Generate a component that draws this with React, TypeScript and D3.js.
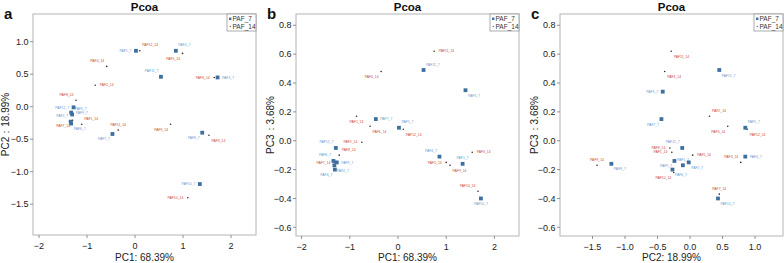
import React from "react";
import * as d3 from "d3";

// ---------- data ----------
// Panel a : PC1 vs PC2
const aSq = [
  { x: 0.02, y: 0.86, label: "PAF1_7", side: "l" },
  { x: 0.85, y: 0.86, label: "PAF4_7", side: "tr" },
  { x: 0.54, y: 0.46, label: "PAF11_7", side: "tl" },
  { x: 1.72, y: 0.45, label: "PAF3_7", side: "r" },
  { x: -1.28, y: -0.01, label: "PAF12_7", side: "l" },
  { x: -1.33, y: -0.09, label: "PAF9_7", side: "r" },
  { x: -1.31, y: -0.12, label: "PAF5_7", side: "tr" },
  { x: -1.34, y: -0.23, label: "PAF2_7", side: "tl" },
  { x: -1.33, y: -0.26, label: "PAF6_7", side: "br" },
  { x: -0.47, y: -0.42, label: "PAF7_7", side: "bl" },
  { x: 1.4, y: -0.4, label: "PAF8_7", side: "bl" },
  { x: 1.35, y: -1.19, label: "PAF10_7", side: "l" },
];
const aDot = [
  { x: 0.1, y: 0.86, label: "PAF12_14", side: "tr" },
  { x: 0.99, y: 0.82, label: "PAF5_14", side: "bl" },
  { x: -0.59, y: 0.62, label: "PAF4_14", side: "tl" },
  { x: 1.65, y: 0.45, label: "PAF6_14", side: "l" },
  { x: -0.83, y: 0.33, label: "PAF2_14", side: "r" },
  { x: -1.23, y: 0.1, label: "PAF8_14", side: "tl" },
  { x: -1.11, y: -0.27, label: "PAF1_14", side: "tr" },
  { x: -0.35, y: -0.36, label: "PAF11_14", side: "t" },
  { x: 0.74, y: -0.27, label: "PAF9_14", side: "bl" },
  { x: 1.54, y: -0.44, label: "PAF3_14", side: "br" },
  { x: 1.1, y: -1.4, label: "PAF10_14", side: "l" },
  { x: -1.3, y: -0.21, label: "PAF7_14", side: "bl" },
];
// Panel b : PC1 vs PC3
const bSq = [
  { x: 0.53, y: 0.49, label: "PAF11_7", side: "tr" },
  { x: 1.4, y: 0.35, label: "PAF3_7", side: "br" },
  { x: -0.46, y: 0.15, label: "PAF7_7", side: "r" },
  { x: 0.02, y: 0.09, label: "PAF5_7", side: "tr" },
  { x: -1.29, y: -0.05, label: "PAF12_7", side: "tl" },
  { x: -1.34, y: -0.14, label: "PAF8_7", side: "tl" },
  { x: -1.27, y: -0.15, label: "PAF9_7", side: "r" },
  { x: -1.32, y: -0.17, label: "PAF2_7", side: "br" },
  { x: -1.31, y: -0.2, label: "PAF6_7", side: "bl" },
  { x: 0.86, y: -0.11, label: "PAF4_7", side: "tl" },
  { x: 1.34, y: -0.16, label: "PAF1_7", side: "t" },
  { x: 1.72, y: -0.4, label: "PAF10_7", side: "b" },
];
const bDot = [
  { x: 0.75, y: 0.62, label: "PAF11_14", side: "r" },
  { x: -0.35, y: 0.48, label: "PAF4_14", side: "bl" },
  { x: -0.86, y: 0.17, label: "PAF1_14", side: "b" },
  { x: 0.11, y: 0.08, label: "PAF12_14", side: "br" },
  { x: -0.58, y: 0.1, label: "PAF6_14", side: "br" },
  { x: -0.75, y: -0.01, label: "PAF2_14", side: "l" },
  { x: -1.22, y: -0.1, label: "PAF8_14", side: "tr" },
  { x: 1.0, y: -0.15, label: "PAF5_14", side: "l" },
  { x: 1.08, y: -0.17, label: "PAF9_14", side: "br" },
  { x: 1.54, y: -0.08, label: "PAF3_14", side: "r" },
  { x: 1.66, y: -0.35, label: "PAF10_14", side: "tl" },
  { x: -1.31, y: -0.15, label: "PAF7_14", side: "l" },
];
// Panel c : PC2 vs PC3
const cSq = [
  { x: 0.45, y: 0.49, label: "PAF11_7", side: "br" },
  { x: -0.42, y: 0.34, label: "PAF3_7", side: "l" },
  { x: -0.44, y: 0.15, label: "PAF7_7", side: "bl" },
  { x: 0.85, y: 0.09, label: "PAF5_7", side: "tr" },
  { x: -0.12, y: -0.05, label: "PAF12_7", side: "tl" },
  { x: -0.24, y: -0.14, label: "PAF9_7", side: "bl" },
  { x: -0.02, y: -0.15, label: "PAF2_7", side: "br" },
  { x: -0.11, y: -0.17, label: "PAF1_7", side: "t" },
  { x: -0.27, y: -0.2, label: "PAF6_7", side: "br" },
  { x: -1.21, y: -0.16, label: "PAF8_7", side: "br" },
  { x: 0.85, y: -0.11, label: "PAF4_7", side: "r" },
  { x: 0.43, y: -0.4, label: "PAF10_7", side: "br" },
];
const cDot = [
  { x: -0.29, y: 0.62, label: "PAF11_14", side: "br" },
  { x: -0.39, y: 0.48, label: "PAF4_14", side: "br" },
  { x: 0.3, y: 0.17, label: "PAF2_14", side: "tr" },
  { x: 0.58, y: 0.1, label: "PAF6_14", side: "bl" },
  { x: -0.31, y: -0.05, label: "PAF8_14", side: "l" },
  { x: 0.04, y: -0.1, label: "PAF5_14", side: "r" },
  { x: -1.43, y: -0.17, label: "PAF9_14", side: "t" },
  { x: 0.78, y: -0.15, label: "PAF3_14", side: "tl" },
  { x: -0.28, y: -0.08, label: "PAF1_14", side: "l" },
  { x: -0.25, y: -0.22, label: "PAF10_14", side: "bl" },
  { x: 0.88, y: 0.08, label: "PAF12_14", side: "br" },
  { x: 0.45, y: -0.37, label: "PAF7_14", side: "t" },
];

const intTicks = [-2, -1, 0, 1, 2];
const halfTicks = [-1.5, -1, -0.5, 0, 0.5, 1];
const aYTicks = [-1.5, -1, -0.5, 0, 0.5, 1];
const pc3Ticks = [-0.6, -0.4, -0.2, 0, 0.2, 0.4, 0.6, 0.8];
const legendNames = ["PAF_7", "PAF_14"];

// ---------- styling ----------
const FONT = "'Liberation Sans', Arial, Helvetica, sans-serif";
const SQ_COLOR = "#3f6f9f";
const DOT_COLOR = "#3a2222";
const BLUE_TXT = "#6b9bd0";
const RED_TXT = "#c8493c";

type Pt = { x: number; y: number; label: string; side: string };

type PanelCfg = {
  letter: string;
  box: [number, number, number, number];
  xDom: [number, number];
  yDom: [number, number];
  xTicks: number[];
  yTicks: number[];
  xFmt: (n: number) => string;
  yFmt: (n: number) => string;
  xTitle: string;
  yTitle: string;
  yTitleX: number;
  sq: Pt[];
  dot: Pt[];
};

const fmtInt = d3.format("d");
const fmt1 = d3.format(".1f");

const panels: PanelCfg[] = [
  {
    letter: "a",
    box: [33, 14, 256, 235],
    xDom: [-2.125, 2.52],
    yDom: [-1.974, 1.426],
    xTicks: intTicks,
    yTicks: aYTicks,
    xFmt: fmtInt,
    yFmt: fmt1,
    xTitle: "PC1: 68.39%",
    yTitle: "PC2：18.99%",
    yTitleX: 9,
    sq: aSq,
    dot: aDot,
  },
  {
    letter: "b",
    box: [296, 14, 519, 236],
    xDom: [-2.116, 2.51],
    yDom: [-0.66, 0.878],
    xTicks: intTicks,
    yTicks: pc3Ticks,
    xFmt: fmtInt,
    yFmt: fmt1,
    xTitle: "PC1: 68.39%",
    yTitle: "PC3：3.68%",
    yTitleX: 273.5,
    sq: bSq,
    dot: bDot,
  },
  {
    letter: "c",
    box: [560, 14, 783, 236],
    xDom: [-2.0, 1.43],
    yDom: [-0.66, 0.878],
    xTicks: halfTicks,
    yTicks: pc3Ticks,
    xFmt: fmt1,
    yFmt: fmt1,
    xTitle: "PC2: 18.99%",
    yTitle: "PC3：3.68%",
    yTitleX: 538,
    sq: cSq,
    dot: cDot,
  },
];

function labelPos(side: string, px: number, py: number) {
  switch (side) {
    case "r":
      return { x: px + 4.5, y: py + 1.2, a: "start" };
    case "l":
      return { x: px - 4.5, y: py + 1.2, a: "end" };
    case "t":
      return { x: px, y: py - 4.5, a: "middle" };
    case "b":
      return { x: px, y: py + 6.5, a: "middle" };
    case "tr":
      return { x: px + 2.5, y: py - 4.5, a: "start" };
    case "tl":
      return { x: px - 2.5, y: py - 4.5, a: "end" };
    case "br":
      return { x: px + 2.5, y: py + 6.5, a: "start" };
    default:
      return { x: px - 2.5, y: py + 6.5, a: "end" };
  }
}

function Panel({ p }: { p: PanelCfg }) {
  const [x0, y0, x1, y1] = p.box;
  const xs = d3.scaleLinear().domain(p.xDom).range([x0, x1]);
  const ys = d3.scaleLinear().domain(p.yDom).range([y1, y0]);
  const cx = (x0 + x1) / 2;
  const cy = (y0 + y1) / 2;
  const lgW = 29;
  const lgX = x1 - lgW;
  return (
    <g>
      <text x={x0 - 29} y={18.5} fontFamily={FONT} fontWeight="bold" fontSize={15} fill="#111">
        {p.letter}
      </text>
      <text x={cx} y={10.5} textAnchor="middle" fontFamily={FONT} fontWeight="bold" fontSize={11.5} fill="#111">
        Pcoa
      </text>
      <rect x={x0} y={y0} width={x1 - x0} height={y1 - y0} fill="#fff" stroke="#b4b4b4" strokeWidth={1} />
      {/* axes */}
      {p.xTicks.map((t) => (
        <g key={"xt" + t}>
          <line x1={xs(t)} x2={xs(t)} y1={y1} y2={y1 + 3} stroke="#777" strokeWidth={0.8} />
          <text x={xs(t)} y={y1 + 13.5} textAnchor="middle" fontFamily={FONT} fontSize={9} fill="#222">
            {p.xFmt(t)}
          </text>
        </g>
      ))}
      {p.yTicks.map((t) => (
        <g key={"yt" + t}>
          <line x1={x0 - 3} x2={x0} y1={ys(t)} y2={ys(t)} stroke="#777" strokeWidth={0.8} />
          <text x={x0 - 4.5} y={ys(t) + 3.2} textAnchor="end" fontFamily={FONT} fontSize={9} fill="#222">
            {p.yFmt(t)}
          </text>
        </g>
      ))}
      <text x={cx} y={260.5} textAnchor="middle" fontFamily={FONT} fontSize={10} fill="#222">
        {p.xTitle}
      </text>
      <text
        transform={`translate(${p.yTitleX},${cy}) rotate(-90)`}
        textAnchor="middle"
        fontFamily={FONT}
        fontSize={10}
        fill="#222"
      >
        {p.yTitle}
      </text>
      {/* points */}
      {p.dot.map((d, i) => {
        const px = xs(d.x);
        const py = ys(d.y);
        const lp = labelPos(d.side, px, py);
        return (
          <g key={"d" + i}>
            <circle cx={px} cy={py} r={0.8} fill={DOT_COLOR} />
            <text x={lp.x} y={lp.y} textAnchor={lp.a as any} fontFamily={FONT} fontSize={3.4} fill={RED_TXT}>
              {d.label}
            </text>
          </g>
        );
      })}
      {p.sq.map((d, i) => {
        const px = xs(d.x);
        const py = ys(d.y);
        const lp = labelPos(d.side, px, py);
        return (
          <g key={"s" + i}>
            <rect x={px - 1.9} y={py - 1.9} width={3.8} height={3.8} fill={SQ_COLOR} />
            <text x={lp.x} y={lp.y} textAnchor={lp.a as any} fontFamily={FONT} fontSize={3.4} fill={BLUE_TXT}>
              {d.label}
            </text>
          </g>
        );
      })}
      {/* legend */}
      <rect x={lgX} y={y0} width={lgW} height={17} fill="#fff" stroke="#888" strokeWidth={0.7} />
      <rect x={lgX + 2} y={y0 + 3.6} width={2.4} height={2.4} fill={SQ_COLOR} />
      <text x={lgX + 5.5} y={y0 + 6.8} fontFamily={FONT} fontSize={6.5} fill="#333">
        {legendNames[0]}
      </text>
      <circle cx={lgX + 3.2} cy={y0 + 12.3} r={0.6} fill={DOT_COLOR} />
      <text x={lgX + 5.5} y={y0 + 14.5} fontFamily={FONT} fontSize={6.5} fill="#333">
        {legendNames[1]}
      </text>
    </g>
  );
}

export default function App() {
  return (
    <svg
      width={784}
      height={263}
      viewBox="0 0 784 263"
      style={{ position: "absolute", left: 0, top: 0, background: "#fff" }}
    >
      <rect x={0} y={0} width={784} height={263} fill="#fff" />
      {panels.map((p) => (
        <Panel key={p.letter} p={p} />
      ))}
    </svg>
  );
}
